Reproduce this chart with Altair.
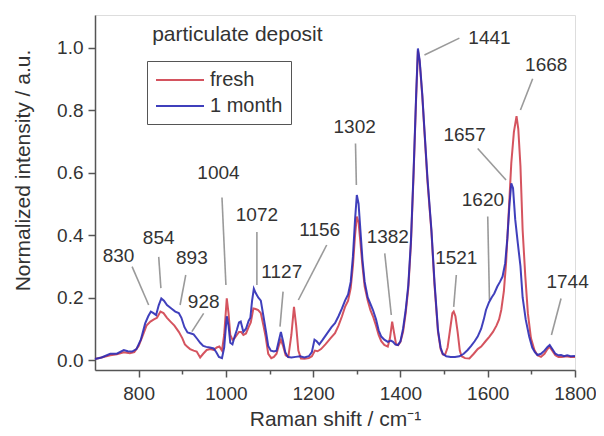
import altair as alt
import pandas as pd

# ---- spectra ----
fresh_x = [700, 715, 735, 750, 766, 780, 790, 800, 810, 818, 827, 835, 842, 850, 857, 865, 873, 882, 892, 900,
           906, 911, 918, 926, 933, 941, 948, 956, 964, 972, 979, 985, 991, 996, 1002, 1006, 1010, 1015, 1020, 1025,
           1030, 1035, 1040, 1046, 1052, 1057, 1063, 1068, 1074, 1080, 1086, 1091, 1097, 1104, 1110, 1116, 1121, 1126,
           1131, 1137, 1143, 1150, 1156, 1161, 1166, 1172, 1180, 1190, 1197, 1204, 1210, 1218, 1228, 1240, 1250, 1258,
           1266, 1273, 1280, 1286, 1291, 1296, 1300, 1304, 1308, 1313, 1318, 1325, 1331, 1337, 1344, 1350, 1356, 1363,
           1371, 1376, 1381, 1385, 1390, 1395, 1400, 1406, 1412, 1418, 1424, 1430, 1436, 1440, 1444, 1450, 1455, 1462,
           1471, 1478, 1486, 1492, 1497, 1502, 1508, 1514, 1519, 1522, 1526, 1531, 1536, 1540, 1548, 1558, 1568, 1577,
           1585, 1595, 1604, 1612, 1620, 1626, 1631, 1637, 1642, 1648, 1654, 1660, 1666, 1670, 1675, 1680, 1686, 1692,
           1699, 1707, 1714, 1722, 1730, 1737, 1742, 1748, 1755, 1762, 1770, 1780, 1790, 1800]
fresh_y = [0.003, 0.008, 0.015, 0.018, 0.025, 0.022, 0.025, 0.045, 0.08, 0.11, 0.123, 0.13, 0.135, 0.155, 0.15, 0.135,
           0.123, 0.11, 0.09, 0.07, 0.05, 0.043, 0.035, 0.03, 0.027, 0.008, 0.02, 0.032, 0.035, 0.032, 0.04, 0.043,
           0.03, 0.08, 0.197, 0.15, 0.08, 0.065, 0.07, 0.08, 0.09, 0.09, 0.08, 0.085, 0.105, 0.12, 0.165, 0.163, 0.16,
           0.15, 0.11, 0.075, 0.02, 0.006, 0.01, 0.02, 0.045, 0.065, 0.045, 0.015, 0.01, 0.08, 0.17, 0.11, 0.03, 0.005,
           0.004, 0.006, 0.012, 0.03, 0.028, 0.035, 0.05, 0.07, 0.086, 0.11, 0.14, 0.17, 0.19, 0.23, 0.3, 0.4, 0.459,
           0.44, 0.38, 0.3, 0.235, 0.19, 0.16, 0.14, 0.11, 0.08, 0.06, 0.048, 0.043, 0.07, 0.123, 0.09, 0.05, 0.048,
           0.058, 0.09, 0.15, 0.23, 0.37, 0.59, 0.84, 0.99, 0.955, 0.845, 0.73, 0.57, 0.41, 0.24, 0.09, 0.035, 0.018,
           0.016, 0.04, 0.1, 0.15, 0.155, 0.14, 0.09, 0.03, 0.012, 0.006, 0.005, 0.02, 0.035, 0.043, 0.06, 0.075, 0.09,
           0.11, 0.13, 0.16, 0.22, 0.31, 0.47, 0.63, 0.73, 0.78, 0.74, 0.62, 0.416, 0.27, 0.15, 0.07, 0.032, 0.015,
           0.01, 0.02, 0.035, 0.042, 0.03, 0.015, 0.01, 0.01, 0.012, 0.01, 0.01]

month_x = [700, 715, 735, 750, 766, 775, 785, 795, 805, 815, 822, 828, 834, 840, 846, 852, 858, 865, 875, 884, 892,
           898, 905, 912, 920, 926, 934, 941, 948, 955, 963, 972, 978, 984, 991, 996, 1002, 1006, 1010, 1015, 1020,
           1025, 1030, 1034, 1040, 1046, 1052, 1056, 1060, 1064, 1068, 1074, 1080, 1086, 1092, 1097, 1103, 1110, 1116,
           1121, 1126, 1131, 1136, 1142, 1150, 1160, 1170, 1180, 1190, 1197, 1203, 1208, 1214, 1222, 1232, 1242, 1250,
           1258, 1266, 1273, 1280, 1286, 1291, 1296, 1300, 1304, 1308, 1313, 1318, 1325, 1331, 1337, 1344, 1350, 1356,
           1363, 1371, 1378, 1383, 1388, 1394, 1400, 1406, 1412, 1418, 1424, 1430, 1436, 1440, 1444, 1450, 1455, 1462,
           1471, 1478, 1486, 1492, 1497, 1505, 1515, 1525, 1535, 1545, 1554, 1562, 1570, 1577, 1585, 1591, 1596, 1603,
           1609, 1615, 1622, 1628, 1634, 1640, 1645, 1650, 1654, 1658, 1663, 1669, 1675, 1680, 1687, 1695, 1702, 1708,
           1714, 1722, 1730, 1737, 1742, 1748, 1755, 1762, 1768, 1775, 1782, 1790, 1800]
month_y = [0.003, 0.008, 0.02, 0.02, 0.032, 0.028, 0.027, 0.035, 0.065, 0.117, 0.14, 0.155, 0.15, 0.144, 0.175, 0.197,
           0.19, 0.176, 0.165, 0.155, 0.15, 0.135, 0.105, 0.088, 0.085, 0.082, 0.068, 0.055, 0.045, 0.042, 0.04, 0.037,
           0.025, 0.01, 0.006, 0.04, 0.14, 0.11, 0.055, 0.05, 0.075, 0.096, 0.12, 0.123, 0.09, 0.1, 0.125, 0.135, 0.19,
           0.228, 0.215, 0.2, 0.19, 0.14, 0.09, 0.045, 0.03, 0.027, 0.03, 0.06, 0.09, 0.06, 0.025, 0.01, 0.008, 0.01,
           0.012, 0.008, 0.012, 0.025, 0.065, 0.06, 0.05, 0.065, 0.085, 0.105, 0.118, 0.14, 0.165, 0.19, 0.21, 0.25,
           0.33, 0.45, 0.528, 0.5, 0.42, 0.32, 0.25, 0.2, 0.18, 0.16, 0.13, 0.095, 0.075, 0.065, 0.058, 0.062, 0.058,
           0.05, 0.048, 0.06, 0.1, 0.16, 0.24, 0.38, 0.6, 0.85, 0.997, 0.96, 0.85, 0.736, 0.58, 0.416, 0.25, 0.096,
           0.04, 0.02, 0.012, 0.01, 0.01, 0.012, 0.02, 0.032, 0.045, 0.06, 0.075, 0.1, 0.13, 0.16, 0.185, 0.2, 0.213,
           0.235, 0.25, 0.267, 0.31, 0.39, 0.5, 0.565, 0.55, 0.45, 0.373, 0.3, 0.2, 0.13, 0.075, 0.04, 0.025, 0.016,
           0.02, 0.03, 0.042, 0.048, 0.035, 0.02, 0.015, 0.016, 0.012, 0.015, 0.012, 0.013]

series_names = ["fresh", "1 month"]
series_colors = ["#d0414e", "#2b2bb5"]

# ---- peak annotations ----
peak_labels = ["830", "854", "893", "928", "1004", "1072", "1127", "1156", "1302", "1382", "1441", "1668", "1657",
               "1620", "1521", "1744"]
label_x = [754, 846, 922, 949, 983, 1071, 1128, 1215, 1295, 1371, 1604, 1734, 1547, 1589, 1528, 1783]
label_y = [0.333, 0.39, 0.325, 0.187, 0.60, 0.464, 0.283, 0.416, 0.747, 0.395, 1.03, 0.944, 0.72, 0.512, 0.325, 0.25]
lead_x1 = [785, 846, 908, 949, 991, 1071, 1131, 1231, 1297, 1364, 1535, 1703, 1577, 1600, 1528, 1768]
lead_y1 = [0.299, 0.33, 0.272, 0.149, 0.52, 0.41, 0.219, 0.368, 0.693, 0.341, 1.03, 0.90, 0.677, 0.459, 0.272, 0.197]
lead_x2 = [823, 851, 895, 922, 1000, 1071, 1124, 1166, 1299, 1379, 1455, 1675, 1642, 1604, 1522, 1746]
lead_y2 = [0.176, 0.23, 0.176, 0.091, 0.24, 0.24, 0.107, 0.192, 0.56, 0.144, 0.976, 0.80, 0.576, 0.192, 0.17, 0.08]

panel_text = ["particulate deposit"]
panel_x = [831]
panel_y = [1.04]

FONT = "Liberation Sans"
TXT = "#333333"
AX = "#555555"

df_fresh = pd.DataFrame({"x": fresh_x, "y": fresh_y, "series": "fresh"})
df_month = pd.DataFrame({"x": month_x, "y": month_y, "series": "1 month"})
df_lab = pd.DataFrame({"t": peak_labels, "x": label_x, "y": label_y})
df_lead = pd.DataFrame({"x": lead_x1, "y": lead_y1, "x2": lead_x2, "y2": lead_y2})
df_panel = pd.DataFrame({"t": panel_text, "x": panel_x, "y": panel_y})

xscale = alt.Scale(domain=[700, 1800], nice=False, zero=False)
yscale = alt.Scale(domain=[-0.032, 1.104], nice=False, zero=False)

xaxis = alt.Axis(
    title="Raman shift / cm⁻¹",
    values=list(range(800, 1801, 100)),
    labelExpr="datum.value % 200 == 0 ? format(datum.value, 'd') : ''",
    tickSize={"condition": {"test": "datum.value % 200 == 0", "value": 7}, "value": 4},
    grid=False, domainColor=AX, tickColor=AX, domainWidth=1.5, tickWidth=1.5,
    labelFont=FONT, labelFontSize=19, labelColor=TXT, labelPadding=7, labelFlush=False,
    titleFont=FONT, titleFontSize=21, titleColor=TXT, titleFontWeight="normal", titlePadding=5,
)
yaxis = alt.Axis(
    title="Normalized intensity / a.u.",
    values=[0.0, 0.1, 0.2, 0.3, 0.4, 0.5, 0.6, 0.7, 0.8, 0.9, 1.0],
    labelExpr="round(datum.value * 10) % 2 == 0 ? format(datum.value, '.1f') : ''",
    tickSize={"condition": {"test": "round(datum.value * 10) % 2 == 0", "value": 7}, "value": 4},
    grid=False, domainColor=AX, tickColor=AX, domainWidth=1.5, tickWidth=1.5,
    labelFont=FONT, labelFontSize=19, labelColor=TXT, labelPadding=5, labelFlush=False,
    titleFont=FONT, titleFontSize=21, titleColor=TXT, titleFontWeight="normal",
    titleX=-72, titleY=155, titleBaseline="middle", titleAngle=270,
)

color = alt.Color(
    "series:N",
    scale=alt.Scale(domain=series_names, range=series_colors),
    legend=alt.Legend(
        orient="none", legendX=52, legendY=46, title=None,
        strokeColor=AX, fillColor="white", padding=8, cornerRadius=0,
        symbolType="M-1,0H3.8", symbolSize=400, symbolStrokeWidth=2,
        labelFont=FONT, labelFontSize=20, labelColor=TXT, labelOffset=33, rowPadding=5,
    ),
)

line_fresh = alt.Chart(df_fresh).mark_line(strokeWidth=2, opacity=0.9).encode(
    x=alt.X("x:Q", scale=xscale, axis=xaxis),
    y=alt.Y("y:Q", scale=yscale, axis=yaxis),
    color=color,
)
line_month = alt.Chart(df_month).mark_line(strokeWidth=2, opacity=0.9).encode(
    x=alt.X("x:Q", scale=xscale),
    y=alt.Y("y:Q", scale=yscale),
    color=color,
)
leads = alt.Chart(df_lead).mark_rule(color="#9a9a9a", strokeWidth=1.6).encode(
    x=alt.X("x:Q", scale=xscale), y=alt.Y("y:Q", scale=yscale), x2="x2:Q", y2="y2:Q"
)
labels = alt.Chart(df_lab).mark_text(font=FONT, fontSize=19, color=TXT, align="center", baseline="middle").encode(
    x=alt.X("x:Q", scale=xscale), y=alt.Y("y:Q", scale=yscale), text="t:N"
)
panel = alt.Chart(df_panel).mark_text(font=FONT, fontSize=21, color=TXT, align="left", baseline="middle").encode(
    x=alt.X("x:Q", scale=xscale), y=alt.Y("y:Q", scale=yscale), text="t:N"
)

chart = alt.layer(leads, line_fresh, line_month, labels, panel).properties(
    width=480, height=355,
    autosize=alt.AutoSizeParams(type="none"),
    padding={"left": 87, "top": 7, "right": 21, "bottom": 58},
).configure_view(stroke=None).configure(background="white")

chart.save("out.html", embed_options={"renderer": "svg", "actions": False})
